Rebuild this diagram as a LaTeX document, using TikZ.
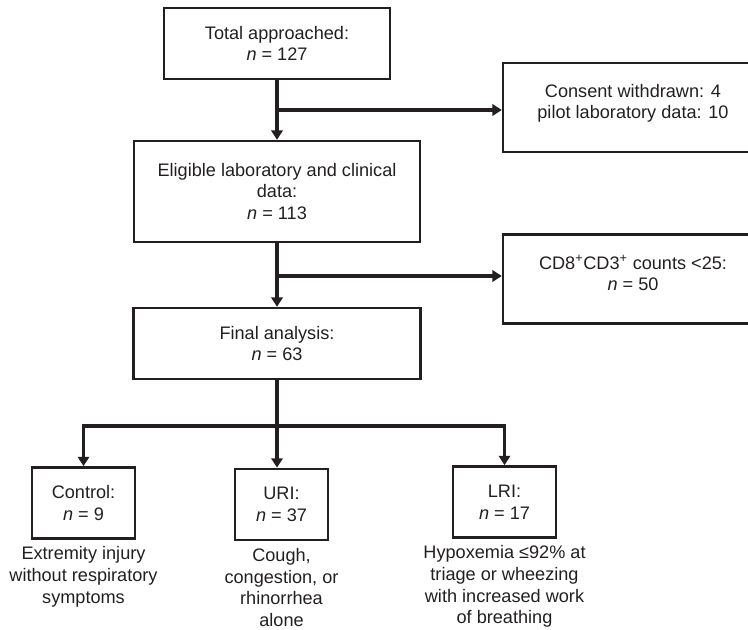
\documentclass[tikz,border=0pt]{standalone}
\usepackage{fontspec}
\setmainfont{Liberation Sans}
\usepackage{tikz}
\usetikzlibrary{arrows.meta,positioning}
\definecolor{ink}{RGB}{35,31,32}

\begin{document}
\begin{tikzpicture}
		[x=0.75pt,y=-0.75pt,
		box/.style={draw=ink,line width=1.8pt,align=center,inner sep=2pt,text=ink,font=\fontsize{13.6}{16.2}\selectfont},
		side box/.style={box,minimum width=195pt,minimum height=66.5pt,text depth=9pt},
		group box/.style={box,minimum height=53.5pt},
		note/.style={align=center,inner sep=0pt,text=ink,font=\fontsize{13.6}{16.2}\selectfont},
		link/.style={draw=ink,line width=2.6pt},
		arr/.style={link,-{Triangle[length=7pt,width=8.5pt]}}]
		\useasboundingbox (0,0) rectangle (748,630);
		
		\node[box,minimum width=169.5pt,minimum height=53.25pt] (total) at (277,43.5) [] {Total approached:\\ \textit{n} = 127};
		\node[box,minimum width=214.5pt,minimum height=75.75pt] (eligible) at (277,191.5) [] {Eligible laboratory and clinical\\ data:\\ \textit{n} = 113};
		\node[box,minimum width=215pt,minimum height=53.25pt] (final) at (277,343.5) [] {Final analysis:\\ \textit{n} = 63};
		
		\node[side box] (consent) at (633,107.5) [] {Consent withdrawn: 4\\ pilot laboratory data: 10};
		\node[side box] (cd8) at (633,279) [] {CD8\textsuperscript{+}CD3\textsuperscript{+} counts <25:\\ \textit{n} = 50};
		
		\node[group box,minimum width=77.25pt] (control) at (83.5,503) [] {Control:\\ \textit{n} = 9};
		\node[group box,minimum width=69.75pt] (uri) at (281.5,504.5) [] {URI:\\ \textit{n} = 37};
		\node[group box,minimum width=77.25pt] (lri) at (504.5,502) [] {LRI:\\ \textit{n} = 17};
		
		\node[note,below=5pt of control] (controlnote) {Extremity injury\\ without respiratory\\ symptoms};
		\node[note,below=5pt of uri] (urinote) {Cough,\\ congestion, or\\ rhinorrhea\\ alone};
		\node[note,below=5pt of lri] (lrinote) {Hypoxemia ≤92\% at\\ triage or wheezing\\ with increased work\\ of breathing};
		
		\coordinate (b1) at (277,110);
		\coordinate (b2) at (277,276);
		\coordinate (b3) at (277,426);
		
		\draw[arr] (total) to (eligible);
		\draw[arr] (b1) to (b1 -| consent.west);
		\draw[arr] (eligible) to (final);
		\draw[arr] (b2) to (b2 -| cd8.west);
		\draw[link] (final) to (b3);
		\draw[arr] (b3) -| (control);
		\draw[arr] (b3) to (b3 |- uri.north);
		\draw[arr] (b3) -| (lri);
		\end{tikzpicture}
\end{document}
